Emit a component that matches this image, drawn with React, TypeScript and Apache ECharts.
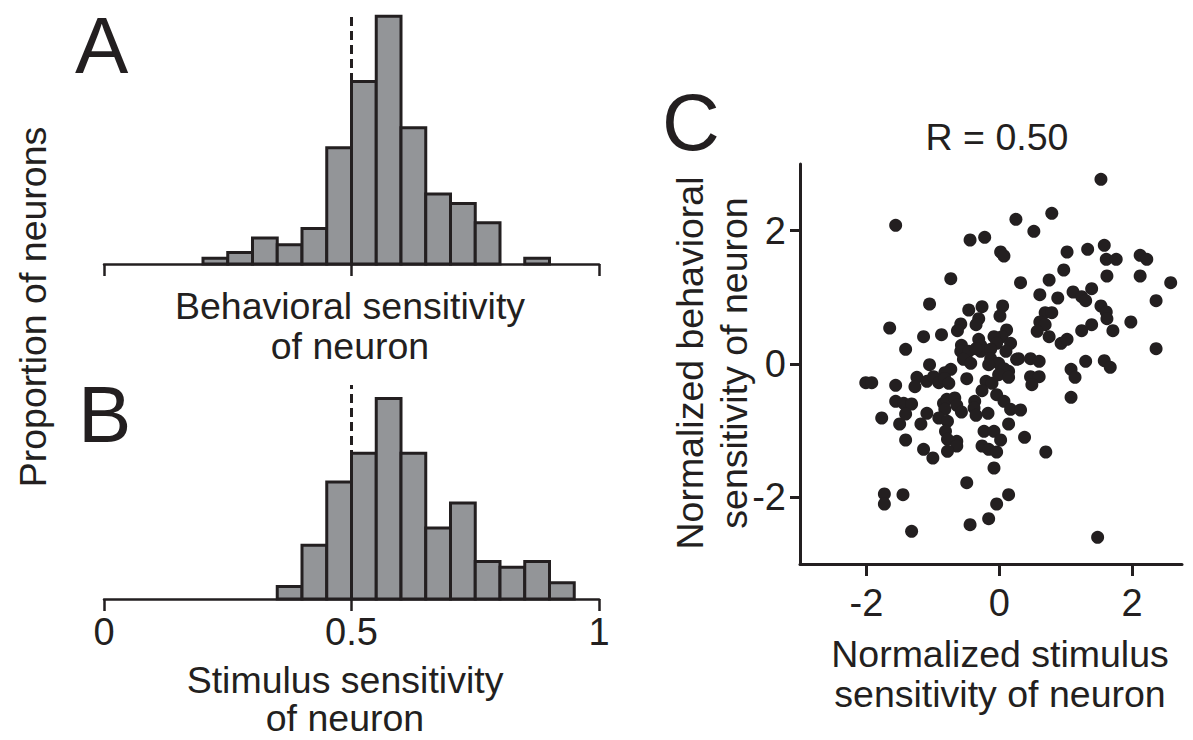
import React, { useEffect, useRef } from "react";
import * as echarts from "echarts";

const FONT = "'Liberation Sans', Arial, Helvetica, sans-serif";
const INK = "#231f20";
const BAR = "#939598";

// Panel A: behavioral sensitivity histogram (bin start, bin width 0.05)
const binStartsA = [0.2, 0.25, 0.3, 0.35, 0.4, 0.45, 0.5, 0.55, 0.6, 0.65, 0.7, 0.75, 0.8, 0.85];
const propA = [0.006, 0.012, 0.027, 0.02, 0.037, 0.121, 0.19, 0.258, 0.142, 0.073, 0.063, 0.043, 0, 0.006];

// Panel B: stimulus sensitivity histogram
const binStartsB = [0.35, 0.4, 0.45, 0.5, 0.55, 0.6, 0.65, 0.7, 0.75, 0.8, 0.85, 0.9];
const propB = [0.013, 0.056, 0.122, 0.152, 0.209, 0.152, 0.074, 0.1, 0.039, 0.033, 0.039, 0.017];

const BIN_WIDTH = 0.05;
const scatterTicks = [-2, 0, 2];

// Panel C: [normalized stimulus sensitivity, normalized behavioral sensitivity]
const neurons: [number, number][] = [
  [-1.56, 2.08], [-0.44, 1.86], [-0.22, 1.9], [0.02, 1.68], [0.07, 1.62], [-0.73, 1.28],
  [-1.05, 0.9], [-1.65, 0.54], [-1.14, 0.41], [-0.87, 0.44], [-1.41, 0.22], [1.53, 2.77],
  [0.25, 2.17], [0.79, 2.26], [0.52, 1.99], [1.02, 1.68], [1.33, 1.72], [1.58, 1.78],
  [1.61, 1.57], [1.76, 1.57], [2.12, 1.63], [2.22, 1.57], [0.97, 1.41], [1.62, 1.32],
  [2.12, 1.32], [2.58, 1.22], [0.32, 1.22], [0.75, 1.26], [0.61, 1.04], [0.88, 0.99],
  [1.11, 1.08], [1.39, 1.13], [1.24, 1.01], [1.3, 0.95], [1.53, 0.87], [1.61, 0.78],
  [1.62, 0.68], [2.36, 0.95], [0.69, 0.77], [0.79, 0.77], [0.61, 0.63], [0.69, 0.59],
  [0.57, 0.49], [0.75, 0.41], [0.93, 0.31], [1.02, 0.37], [1.24, 0.5], [1.39, 0.59],
  [1.71, 0.5], [1.98, 0.63], [2.36, 0.23], [1.3, 0.04], [1.58, 0.05], [1.67, -0.05],
  [1.08, -0.08], [1.14, -0.2], [1.08, -0.5], [0.29, 0.08], [0.47, 0.08], [0.6, 0.04],
  [0.47, -0.19], [0.6, -0.19], [0.49, -0.31], [-0.46, 0.81], [-0.26, 0.86], [0.05, 0.87],
  [0.01, 0.72], [-0.31, 0.68], [-0.35, 0.59], [-0.58, 0.6], [-0.63, 0.5], [0.11, 0.51],
  [0.04, 0.41], [-0.08, 0.41], [-0.04, 0.31], [-0.31, 0.37], [-0.28, 0.28], [-0.57, 0.28],
  [0.17, 0.31], [-0.58, 0.19], [-0.46, 0.19], [-0.54, 0.07], [-0.43, 0.01], [-0.28, 0.19],
  [-0.13, 0.22], [-0.13, 0.08], [-0.01, 0.01], [0.1, 0.19], [0.26, 0.07], [0.14, -0.11],
  [0.07, -0.07], [-0.35, 0.23], [-0.73, -0.08], [-0.82, -0.13], [-1.05, -0.01], [-0.16, -0.01],
  [-2.01, -0.28], [-1.92, -0.28], [-1.56, -0.32], [-1.24, -0.2], [-1.27, -0.34], [-1.09, -0.26],
  [-0.99, -0.19], [-0.91, -0.28], [-0.82, -0.22], [-0.76, -0.29], [-0.49, -0.22], [-0.2, -0.26],
  [-0.11, -0.29], [-0.01, -0.16], [0.14, -0.2], [-0.26, -0.4], [-0.04, -0.46], [0.07, -0.56],
  [-0.37, -0.56], [-0.38, -0.66], [-0.35, -0.77], [-0.17, -0.74], [0.17, -0.68], [0.32, -0.69],
  [0.14, -0.9], [-0.23, -1.01], [-0.08, -1.01], [0.02, -1.14], [0.38, -1.1], [-0.26, -1.23],
  [-0.16, -1.28], [-0.04, -1.32], [0.7, -1.32], [-0.08, -1.56], [0.14, -1.96], [-0.04, -2.1],
  [-0.16, -2.32], [1.48, -2.6], [-0.49, -1.78], [-0.44, -2.41], [-1.73, -1.95], [-1.73, -2.1],
  [-1.45, -1.96], [-1.32, -2.51], [-1.56, -0.56], [-1.44, -0.59], [-1.32, -0.6], [-1.77, -0.81],
  [-1.5, -0.9], [-1.41, -0.75], [-1.09, -0.74], [-1.18, -0.9], [-0.84, -0.59], [-0.79, -0.53],
  [-0.67, -0.51], [-0.64, -0.62], [-0.57, -0.72], [-0.82, -0.68], [-0.91, -0.81], [-0.78, -0.86],
  [-0.81, -1.01], [-0.78, -1.13], [-0.64, -1.16], [-0.64, -1.23], [-0.78, -1.31], [-1.41, -1.14],
  [-1.14, -1.28], [-1.0, -1.41],
];

const Y_MAX_A = 0.2594;
const Y_MAX_B = 0.223;
const TITLE_SIZE = 37.5;
const TICK_SIZE = 38;

function histData(starts: number[], props: number[]) {
  return starts.map((s, i) => [s, s + BIN_WIDTH, props[i]]);
}

function renderBin(params: any, api: any) {
  const h = api.value(2);
  if (!(h > 0)) return null;
  const p0 = api.coord([api.value(0), h]);
  const p1 = api.coord([api.value(1), 0]);
  return {
    type: "rect",
    shape: { x: p0[0], y: p0[1], width: p1[0] - p0[0], height: p1[1] - p0[1] },
    style: { fill: BAR, stroke: INK, lineWidth: 3 },
  };
}

function histXAxis(gridIndex: number, showLabels: boolean) {
  return {
    type: "value",
    gridIndex,
    min: 0,
    max: 1,
    interval: 0.5,
    axisLine: { show: true, onZero: false, lineStyle: { color: INK, width: 2.5 } },
    axisTick: { show: true, length: 12, inside: false, lineStyle: { color: INK, width: 2.5 } },
    axisLabel: { show: showLabels, color: INK, fontSize: TICK_SIZE, fontFamily: FONT, margin: 14 },
    splitLine: { show: false },
  };
}

function text(t: string, x: number, y: number, size: number, extra: any = {}) {
  return {
    type: "text",
    x,
    y,
    rotation: extra.rotation || 0,
    style: {
      text: t,
      fontSize: size,
      fontFamily: FONT,
      fill: INK,
      align: extra.align || "center",
      verticalAlign: "middle",
      lineHeight: extra.lineHeight || size * 1.1,
    },
  };
}

export default function App() {
  const ref = useRef<HTMLDivElement>(null);
  useEffect(() => {
    if (!ref.current) return;
    const chart = echarts.init(ref.current, undefined, { renderer: "svg" });
    chart.setOption({
      animation: false,
      backgroundColor: "#ffffff",
      grid: [
        { left: 104, right: 594, top: 15, bottom: 476 },
        { left: 104, right: 594, top: 385, bottom: 141 },
        { left: 800, right: 11, top: 164, bottom: 176 },
      ],
      xAxis: [
        histXAxis(0, false),
        histXAxis(1, true),
        {
          type: "value",
          gridIndex: 2,
          min: -3,
          max: 2.75,
          axisLine: { show: true, onZero: false, lineStyle: { color: INK, width: 3 } },
          axisTick: { show: true, length: 12, customValues: scatterTicks, lineStyle: { color: INK, width: 3 } },
          axisLabel: { customValues: scatterTicks, color: INK, fontSize: TICK_SIZE, fontFamily: FONT, margin: 20 },
          splitLine: { show: false },
        },
      ],
      yAxis: [
        { type: "value", gridIndex: 0, min: 0, max: Y_MAX_A, show: false },
        { type: "value", gridIndex: 1, min: 0, max: Y_MAX_B, show: false },
        {
          type: "value",
          gridIndex: 2,
          min: -3,
          max: 3,
          axisLine: { show: true, onZero: false, lineStyle: { color: INK, width: 3 } },
          axisTick: { show: true, length: 10, customValues: scatterTicks, lineStyle: { color: INK, width: 3 } },
          axisLabel: { customValues: scatterTicks, color: INK, fontSize: TICK_SIZE, fontFamily: FONT, margin: 14 },
          splitLine: { show: false },
        },
      ],
      series: [
        {
          type: "custom",
          xAxisIndex: 0,
          yAxisIndex: 0,
          data: histData(binStartsA, propA),
          encode: { x: [0, 1], y: 2 },
          renderItem: renderBin,
        },
        {
          type: "line",
          xAxisIndex: 0,
          yAxisIndex: 0,
          data: [[0.5, 0], [0.5, Y_MAX_A]],
          symbol: "none",
          lineStyle: { color: INK, width: 3, type: [9, 5] },
          z: 5,
        },
        {
          type: "custom",
          xAxisIndex: 1,
          yAxisIndex: 1,
          data: histData(binStartsB, propB),
          encode: { x: [0, 1], y: 2 },
          renderItem: renderBin,
        },
        {
          type: "line",
          xAxisIndex: 1,
          yAxisIndex: 1,
          data: [[0.5, 0], [0.5, Y_MAX_B]],
          symbol: "none",
          lineStyle: { color: INK, width: 3, type: [9, 5] },
          z: 5,
        },
        {
          type: "scatter",
          xAxisIndex: 2,
          yAxisIndex: 2,
          data: neurons,
          symbol: "circle",
          symbolSize: 13,
          itemStyle: { color: INK, opacity: 1 },
        },
      ],
      graphic: [
        text("A", 75, 45, 80, { align: "left" }),
        text("B", 78, 414, 80, { align: "left" }),
        text("C", 662, 122, 80, { align: "left" }),
        text("Proportion of neurons", 33, 307, TITLE_SIZE, { rotation: Math.PI / 2 }),
        text("Behavioral sensitivity\nof neuron", 350, 326, TITLE_SIZE, { lineHeight: 40 }),
        text("Stimulus sensitivity\nof neuron", 345, 699, TITLE_SIZE, { lineHeight: 38 }),
        text("R = 0.50", 997, 137, TITLE_SIZE),
        text("Normalized behavioral\nsensitivity of neuron", 712, 363, TITLE_SIZE, { rotation: Math.PI / 2, lineHeight: 44 }),
        text("Normalized stimulus\nsensitivity of neuron", 1000, 674, TITLE_SIZE, { lineHeight: 40 }),
      ],
    });
    return () => chart.dispose();
  }, []);
  return (
    <div
      ref={ref}
      style={{ position: "absolute", left: 0, top: 0, width: 1193, height: 740, background: "#fff" }}
    />
  );
}
